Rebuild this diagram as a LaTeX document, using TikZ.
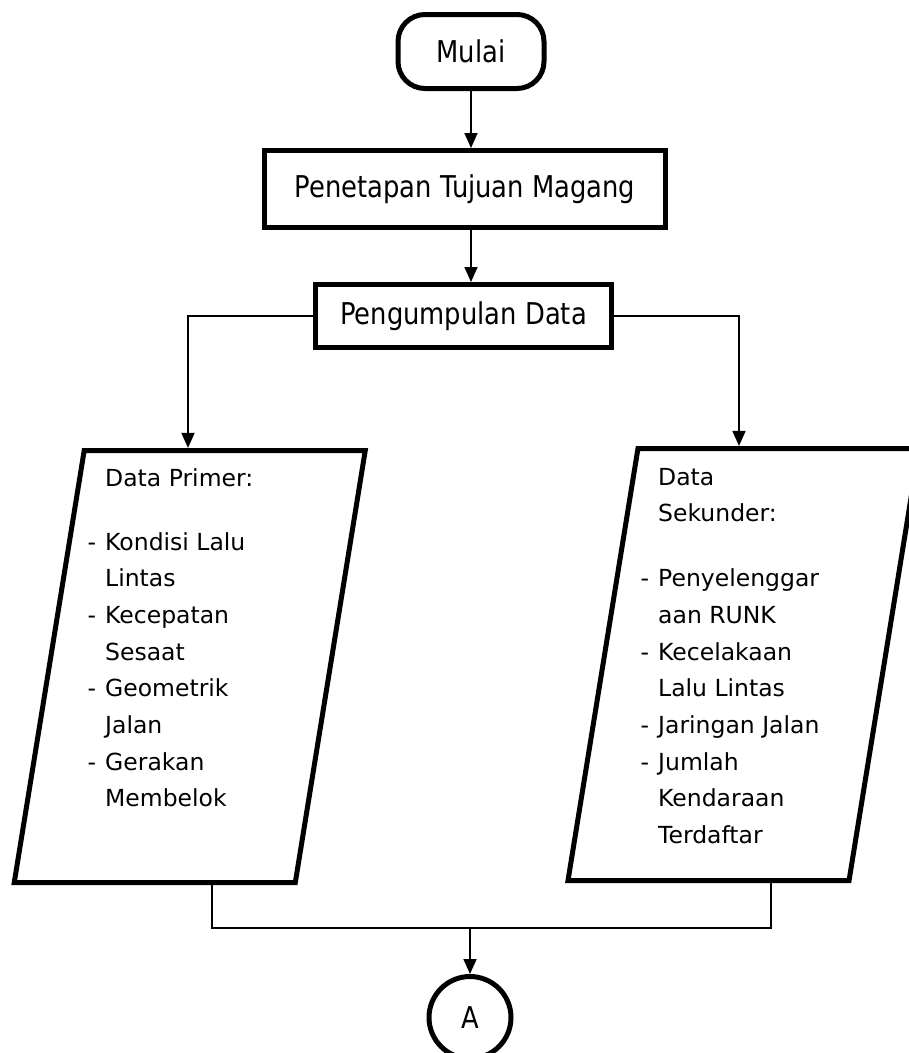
\documentclass[tikz,border=0pt]{standalone}
\usepackage{fontspec}
\setmainfont{DejaVu Sans}
\newfontfamily\judulfont{DejaVu Sans}[FakeStretch=0.86]
\usepackage{tikz}
\usetikzlibrary{shapes.geometric, arrows.meta}
\newcommand{\butir}{\llap{-\hspace{9pt}}}

\begin{document}
\begin{tikzpicture}[x = 1pt, y = -1pt,
	tebal/.style = {draw, line width = 5pt, inner sep = 0pt, align = center, font = \judulfont\fontsize{30}{36}\selectfont},
	miring/.style = {draw, line width = 5pt, inner xsep = 1pt, inner ysep = 0pt, trapezium, trapezium stretches body = true, minimum width = 351},
	isi/.style = {anchor = base west, inner sep = 0pt, font = \fontsize{23.5}{36.7}\selectfont},
	garis/.style = {line width = 1.6pt},
	panah/.style = {->, >={Triangle[length = 15pt, width = 13pt]}, line width = 1.7pt}]
	\useasboundingbox (0,0) rectangle (909,1053);
	\fill[white] (0,0) rectangle (909,1053);

	\node [tebal, rounded corners = 27pt, minimum width = 146, minimum height = 74] (mulai) at (471,51.5) {Mulai};
	\node [tebal, minimum width = 401, minimum height = 77] (tujuan) at (465,189) {Penetapan Tujuan Magang};
	\node [tebal, minimum width = 296, minimum height = 63] (kumpul) at (463.5,316) {Pengumpulan Data};
	\node [miring, trapezium left angle = 80.8, trapezium right angle = 99.2] (primer) at (189.75,666.5) {\vrule width 0pt height 432pt};
	\node [miring, trapezium left angle = 80.8, trapezium right angle = 99.2] (sekunder) at (743.5,664.5) {\vrule width 0pt height 432pt};
	\node [tebal, circle, minimum size = 82] (konA) at (470,1017.5) {A};
	\coordinate (gabung) at (470,928);

	\node [isi] (teksprimer) at (105,486.7) {\begin{tabular}[t]{@{}l@{}}
		Data Primer:\\[26.6pt]
		\butir Kondisi Lalu\\ Lintas\\
		\butir Kecepatan\\ Sesaat\\
		\butir Geometrik\\ Jalan\\
		\butir Gerakan\\ Membelok
	\end{tabular}};
	\node [isi] (tekssekunder) at (658,485) {\begin{tabular}[t]{@{}l@{}}
		Data\\ Sekunder:\\[28.3pt]
		\butir Penyelenggar\\ aan RUNK\\
		\butir Kecelakaan\\ Lalu Lintas\\
		\butir Jaringan Jalan\\
		\butir Jumlah\\ Kendaraan\\ Terdaftar
	\end{tabular}};

	\draw[panah] (mulai.south) -- (mulai.south |- tujuan.north);
	\draw[panah] (tujuan.south -| mulai) -- (mulai |- kumpul.north);
	\draw[panah] (kumpul.west) -| ([xshift = -1.75pt]primer.north);
	\draw[panah] (kumpul.east) -| ([xshift = -4.5pt]sekunder.north);
	\draw[garis] ([xshift = 22pt]primer.south) |- (gabung) -| ([xshift = 27.5pt]sekunder.south);
	\draw[panah] (gabung) -- (konA.north);
\end{tikzpicture}
\end{document}
